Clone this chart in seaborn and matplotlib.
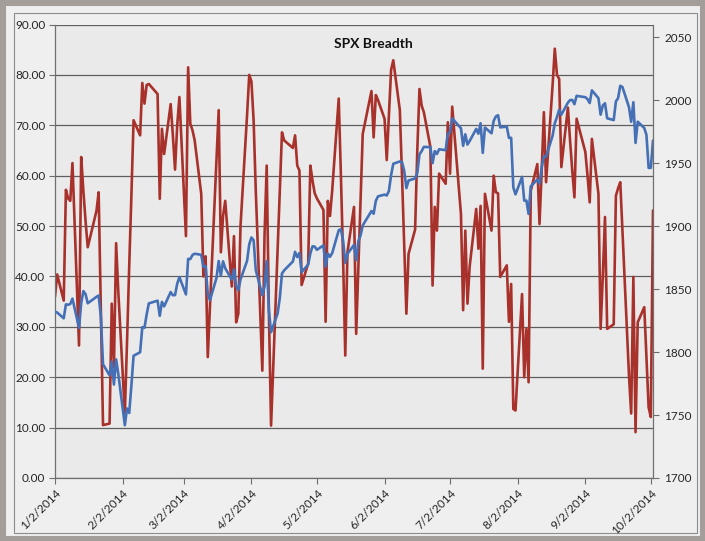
import pandas as pd
import matplotlib
matplotlib.use("Agg")
import matplotlib.pyplot as plt
import matplotlib.dates as mdates
from matplotlib.patches import Rectangle
import seaborn as sns

# trading calendar Jan 2 - Oct 3 2014 (NYSE holidays removed)
holidays = ["2014-01-20", "2014-02-17", "2014-04-18", "2014-05-26", "2014-07-04", "2014-09-01"]
dates = pd.bdate_range("2014-01-02", "2014-10-03", freq="C", holidays=holidays)

# SPX close (right axis)
spx_jan = [1831.98, 1831.37, 1826.77, 1837.88, 1837.49, 1838.13, 1842.37, 1819.20, 1838.88, 1848.38, 1845.89,
           1838.70, 1843.80, 1844.86, 1828.46, 1790.29, 1781.56, 1792.50, 1774.20, 1794.19, 1782.59]
spx_feb = [1741.89, 1755.20, 1751.64, 1773.43, 1797.02, 1799.84, 1819.75, 1819.26, 1829.83, 1838.63, 1840.76,
           1828.75, 1839.78, 1836.25, 1847.61, 1845.12, 1845.16, 1854.29, 1859.45]
spx_mar = [1845.73, 1873.91, 1873.81, 1877.03, 1878.04, 1877.17, 1867.63, 1868.20, 1846.34, 1841.13, 1858.83,
           1872.25, 1860.77, 1872.01, 1866.52, 1857.44, 1865.62, 1852.56, 1849.04, 1857.62, 1872.34]
spx_apr = [1885.52, 1890.90, 1888.77, 1865.09, 1845.04, 1851.96, 1872.18, 1833.08, 1815.69, 1830.61, 1842.98,
           1862.31, 1864.85, 1871.89, 1879.55, 1875.39, 1878.61, 1863.40, 1869.43, 1878.33, 1883.95]
spx_may = [1883.68, 1881.14, 1884.66, 1867.72, 1878.21, 1875.63, 1878.48, 1896.65, 1897.45, 1888.53, 1870.85,
           1877.86, 1885.08, 1872.83, 1888.03, 1892.49, 1900.53, 1911.91, 1909.78, 1920.03, 1923.57]
spx_jun = [1924.97, 1924.24, 1927.88, 1940.46, 1949.44, 1951.27, 1950.79, 1943.89, 1930.11, 1936.16, 1937.78,
           1941.99, 1956.98, 1959.48, 1962.87, 1962.61, 1949.98, 1959.53, 1957.22, 1960.96, 1960.23]
spx_jul = [1973.32, 1974.62, 1985.44, 1977.65, 1963.71, 1972.83, 1964.68, 1967.57, 1977.10, 1973.28, 1981.57,
           1958.12, 1978.22, 1973.63, 1983.53, 1987.01, 1987.98, 1978.34, 1978.91, 1969.95, 1970.07, 1930.67]
spx_aug = [1925.15, 1938.99, 1920.21, 1920.24, 1909.57, 1931.59, 1936.92, 1933.75, 1946.72, 1955.18, 1955.06,
           1971.74, 1981.60, 1986.51, 1992.37, 1988.40, 1997.92, 2000.02, 2000.12, 1996.74, 2003.37]
spx_sep = [2002.28, 2000.72, 1997.65, 2007.71, 2001.54, 1988.44, 1995.69, 1997.45, 1985.54, 1984.13, 1998.98,
           2001.57, 2011.36, 2010.40, 1994.29, 1982.77, 1998.30, 1965.99, 1982.85, 1977.80, 1972.29]
spx_oct = [1946.16, 1946.17, 1967.90]

# breadth reading (left axis)
br_jan = [36, 40.4, 35.2, 57.2, 55.5, 55, 62.5, 26.3, 63.7, 57, 51, 45.8, 53, 56.7, 33, 10.5, 10.8, 34.6, 22, 46.6, 37]
br_feb = [12.8, 27, 42, 56, 71, 68, 78.4, 74.3, 78, 78.2, 76.2, 55.4, 69.3, 64.3, 74.2, 68, 61.2, 70, 75.6]
br_mar = [48, 81.5, 70.3, 69, 67, 56.4, 40, 44, 24, 34, 63, 73, 44.8, 52, 55, 38, 48, 30.9, 32.6, 50, 72]
br_apr = [80, 78.7, 71, 57, 21.3, 48, 62, 33, 10.4, 45, 57, 68.6, 67, 65.5, 68, 62, 61, 38.3, 42.6, 62, 59]
br_may = [56.5, 55.5, 53.2, 31, 55, 52, 57, 75.3, 60, 43.6, 24.3, 44.8, 53.8, 28.6, 42, 55, 68.3, 76.8, 67.6, 76, 75]
br_jun = [71.3, 63.1, 72, 81, 82.9, 73, 60, 46, 32.6, 44.5, 49.3, 65, 77.2, 73.9, 72.6, 65.7, 38.2, 53.8, 49.1, 60.4, 58.4]
br_jul = [70.6, 60.4, 73.7, 52.4, 33.3, 49.1, 34.6, 42, 53.4, 45.5, 54, 21.7, 56.4, 49.1, 60, 56.7, 56.5, 39.9,
          42.2, 31, 38.5, 13.7]
br_aug = [13.4, 36.5, 20, 29.6, 19, 57, 62.3, 50.4, 61, 72.6, 58.7, 78, 85.2, 80, 79.2, 61.7, 73.5, 67, 61, 55.7, 71.3]
br_sep = [64.7, 60, 54.7, 67.3, 56.4, 29.6, 40, 51.8, 29.6, 30.5, 56, 57.5, 58.7, 49, 20.3, 12.8, 39.9, 9.1, 30.9,
          33.9, 24]
br_oct = [14, 12.1, 53.1]

spx = spx_jan + spx_feb + spx_mar + spx_apr + spx_may + spx_jun + spx_jul + spx_aug + spx_sep + spx_oct
breadth = br_jan + br_feb + br_mar + br_apr + br_may + br_jun + br_jul + br_aug + br_sep + br_oct

tick_dates = ["2014-01-02", "2014-02-02", "2014-03-02", "2014-04-02", "2014-05-02",
              "2014-06-02", "2014-07-02", "2014-08-02", "2014-09-02", "2014-10-02"]
tick_labels = ["1/2/2014", "2/2/2014", "3/2/2014", "4/2/2014", "5/2/2014",
               "6/2/2014", "7/2/2014", "8/2/2014", "9/2/2014", "10/2/2014"]

df = pd.DataFrame({"date": dates, "spx": spx, "breadth": breadth})

sns.set_theme(style="white")
plt.rcParams["font.family"] = ["Lato", "DejaVu Sans"]

red = "#a8322b"
blue = "#4570b6"
grid_col = "#5e5e5e"
text_col = "#262626"

fig = plt.figure(figsize=(7.05, 5.41), dpi=100, facecolor="#efefef")
W, H = 705, 541
ax = fig.add_axes([55 / W, (H - 478) / H, (653 - 55) / W, (478 - 24.5) / H])
ax.set_facecolor("#eaeaea")

# frame around the chart
fig.patches.append(Rectangle((0, 0), 1, 1, transform=fig.transFigure, fill=False,
                             edgecolor="#a39e99", linewidth=8, zorder=0))
fig.patches.append(Rectangle((14 / W, 8 / H), (697 - 14) / W, (528 - 8) / H, transform=fig.transFigure,
                             fill=False, edgecolor="#8c8c8c", linewidth=0.8, zorder=0))

sns.lineplot(data=df, x="date", y="breadth", ax=ax, color=red, linewidth=1.9)
ax.set_ylim(0, 90)
ax.set_yticks(range(0, 91, 10))
ax.set_yticklabels([f"{v:.2f}" for v in range(0, 91, 10)])
ax.yaxis.grid(True, color=grid_col, linewidth=0.9)
ax.set_axisbelow(True)

ax2 = ax.twinx()
sns.lineplot(data=df, x="date", y="spx", ax=ax2, color=blue, linewidth=1.9)
ax2.set_ylim(1700, 2060)
ax2.set_yticks(range(1700, 2051, 50))

xmin = mdates.date2num(pd.Timestamp("2014-01-02"))
xmax = mdates.date2num(pd.Timestamp("2014-10-03"))
ax.set_xlim(xmin, xmax)
ax.set_xticks(pd.to_datetime(tick_dates))
ax.set_xticklabels(tick_labels, rotation=45, ha="right", rotation_mode="anchor")

for a in (ax, ax2):
    a.set_xlabel("")
    a.set_ylabel("")
    for s in a.spines.values():
        s.set_visible(False)
    a.tick_params(colors=text_col, labelsize=8.5, length=4, width=0.8, direction="out")
    a.tick_params(axis="both", color="#6e6e6e")

ax.spines["left"].set_visible(True)
ax.spines["bottom"].set_visible(True)
ax2.spines["right"].set_visible(True)
for s in (ax.spines["left"], ax.spines["bottom"], ax2.spines["right"]):
    s.set_color("#707070")
    s.set_linewidth(0.9)

ax.tick_params(axis="y", left=True, pad=3)
ax.tick_params(axis="x", bottom=True, pad=3)
ax2.tick_params(axis="y", right=True, pad=4)

ax.text(0.532, 0.957, "SPX Breadth", transform=ax.transAxes, ha="center", va="center",
        fontsize=10, fontweight="bold", color="#111111")

fig.savefig("out.png", dpi=100, facecolor=fig.get_facecolor())
